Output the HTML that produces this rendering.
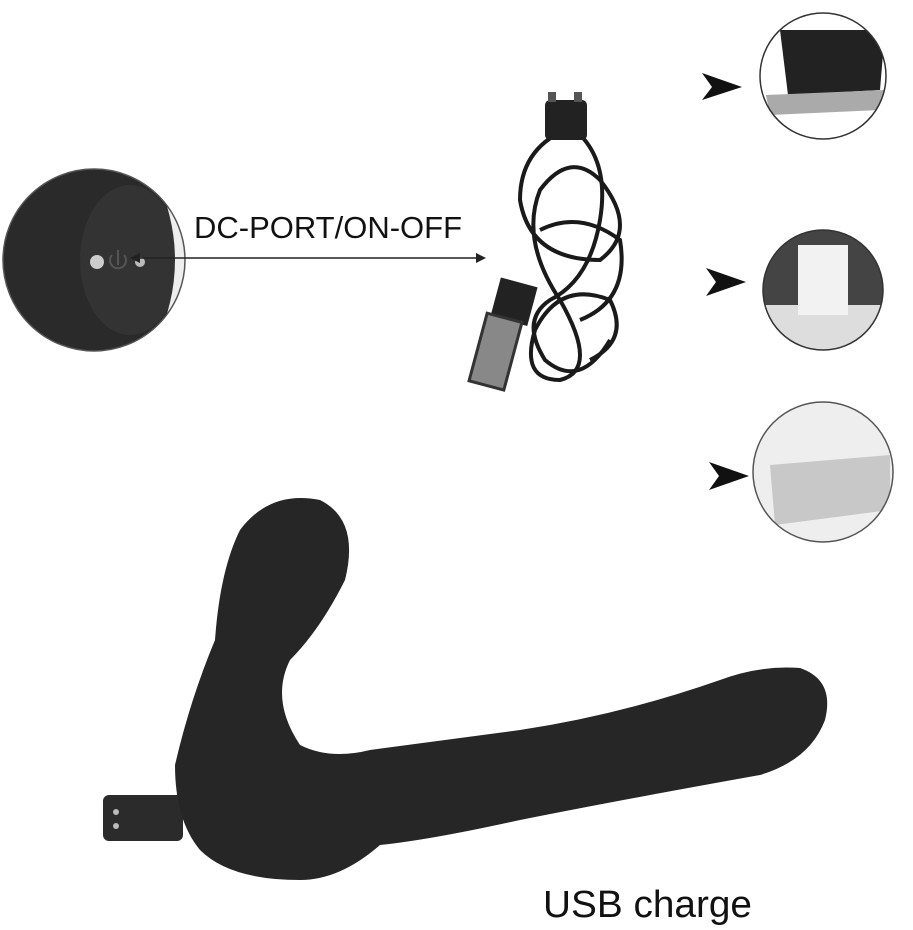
<!DOCTYPE html>
<html><head><meta charset="utf-8"><style>
html,body{margin:0;padding:0;background:#fff;}
body{width:913px;height:930px;overflow:hidden;position:relative;font-family:"Liberation Sans",sans-serif;}
</style></head><body>
<svg width="913" height="930" viewBox="0 0 913 930" style="position:absolute;left:0;top:0">
<defs>
<clipPath id="c1"><circle cx="94" cy="260" r="91"/></clipPath>
<clipPath id="c2"><circle cx="823" cy="76" r="63"/></clipPath>
<clipPath id="c3"><circle cx="823" cy="290" r="60"/></clipPath>
<clipPath id="c4"><circle cx="823" cy="472" r="70"/></clipPath>
</defs>
<g clip-path="url(#c1)">
<rect x="0" y="160" width="200" height="200" fill="#2a2a2a"/>
<ellipse cx="130" cy="260" rx="50" ry="75" fill="#333"/>
<path d="M150 165 Q200 260 150 355 L200 355 L200 165Z" fill="#eee"/>
<circle cx="97" cy="262" r="7" fill="#ccc"/>
<circle cx="140" cy="262" r="5" fill="#bbb"/>
<path d="M118 250 v15 M112 255 a8 8 0 1 0 12 0" stroke="#555" stroke-width="2" fill="none"/>
</g>
<circle cx="94" cy="260" r="91" fill="none" stroke="#555" stroke-width="1.5"/>
<text x="194" y="238" font-size="31" fill="#111" textLength="268" lengthAdjust="spacingAndGlyphs">DC-PORT/ON-OFF</text>
<line x1="132" y1="258" x2="482" y2="258" stroke="#222" stroke-width="1.5"/>
<path d="M130 258 l10 -5 v10z M486 258 l-10 -5 v10z" fill="#222"/>
<g fill="none" stroke="#1a1a1a" stroke-width="4">
<path d="M565 130 Q520 150 520 200 Q530 260 600 260 Q640 230 600 180 Q570 150 540 190 Q520 240 560 300 Q600 370 560 380 Q520 380 535 330 Q560 280 610 300 Q630 340 590 360"/>
<path d="M575 130 Q610 160 600 220 Q590 280 550 300 Q520 320 545 360 Q580 390 610 340"/>
<path d="M540 230 Q580 210 620 240 Q630 300 580 320"/>
</g>
<rect x="545" y="100" width="42" height="40" rx="5" fill="#222"/>
<rect x="548" y="92" width="8" height="10" fill="#555"/><rect x="574" y="92" width="8" height="10" fill="#555"/>
<g transform="rotate(15 505 320)"><rect x="490" y="280" width="38" height="40" fill="#222"/><rect x="486" y="318" width="36" height="70" fill="#888" stroke="#333" stroke-width="3"/></g>
<path d="M702 73 L742 87 L702 100 L712 87Z" fill="#111"/>
<path d="M706 268 L746 282 L706 296 L716 282Z" fill="#111"/>
<path d="M709 462 L749 476 L709 490 L719 476Z" fill="#111"/>
<g clip-path="url(#c2)"><rect x="760" y="13" width="130" height="130" fill="#fff"/>
<path d="M780 30 L885 30 L880 90 L788 95Z" fill="#222"/><path d="M766 95 L885 90 L880 110 L770 115Z" fill="#aaa"/></g>
<circle cx="823" cy="76" r="63" fill="none" stroke="#333" stroke-width="1.5"/>
<g clip-path="url(#c3)"><rect x="760" y="230" width="130" height="130" fill="#444"/>
<rect x="765" y="305" width="120" height="45" fill="#ddd"/>
<rect x="798" y="245" width="50" height="70" fill="#f2f2f2"/></g>
<circle cx="823" cy="290" r="60" fill="none" stroke="#333" stroke-width="1.5"/>
<g clip-path="url(#c4)"><rect x="750" y="400" width="150" height="145" fill="#eee"/>
<path d="M770 465 L890 455 L890 510 L775 525Z" fill="#c8c8c8"/></g>
<circle cx="823" cy="472" r="70" fill="none" stroke="#555" stroke-width="1.5"/>
<rect x="103" y="795" width="80" height="46" rx="6" fill="#2b2b2b"/>
<circle cx="116" cy="812" r="3" fill="#bbb"/><circle cx="116" cy="826" r="3" fill="#bbb"/>
<path d="M175 765 Q190 700 215 640 Q220 570 240 530 Q270 490 320 500 Q360 520 345 580 Q320 630 290 660 Q270 700 300 745 Q330 760 370 750 L520 730 Q620 715 720 680 Q760 665 800 668 Q835 680 825 720 Q810 760 760 775 Q620 800 520 820 Q430 840 380 845 Q340 880 300 880 Q230 880 200 850 Q175 820 175 765Z" fill="#262626"/>
<text x="543" y="917" font-size="38" fill="#111" textLength="209" lengthAdjust="spacingAndGlyphs">USB charge</text>
</svg>
</body></html>
